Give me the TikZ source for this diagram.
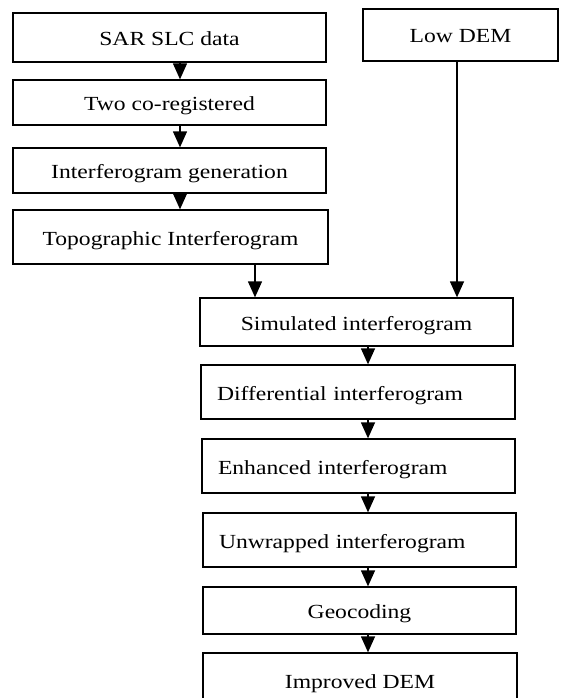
\documentclass[tikz,border=0pt]{standalone}
\usepackage{fontspec}
\setmainfont{Liberation Serif}[FakeStretch=1.18]
\usetikzlibrary{arrows.meta}
\begin{document}
\begin{tikzpicture}[x=1pt,y=-1pt,
  box/.style={draw, line width=1.3pt, rectangle, inner ysep=0pt, inner xsep=0pt,
    font=\fontsize{20pt}{24pt}\selectfont, text height=16pt, text depth=0pt,
    anchor=center},
  lbox/.style={box, align=left, inner xsep=16pt},
  arr/.style={line width=1.3pt, -{Triangle[width=14pt,length=16pt]}}]
\useasboundingbox (0,0) rectangle (565,698);
\clip (0,0) rectangle (565,698);
% left column
\node[box, minimum width=313pt, minimum height=49pt] (b1) at (169.5,37.5) {SAR SLC data};
\node[box, minimum width=313pt, minimum height=45pt] (b2) at (169.5,102.5) {Two co-registered};
\node[box, minimum width=313pt, minimum height=45pt] (b3) at (169.5,170.5) {Interferogram generation};
\node[box, minimum width=315pt, minimum height=54pt] (b4) at (170.5,237) {Topographic Interferogram};
% low DEM
\node[box, minimum width=195pt, minimum height=52pt] (low) at (460.5,35) {Low DEM};
% right column
\node[box, minimum width=313pt, minimum height=48pt] (sim) at (356.5,322) {Simulated interferogram};
\node[lbox, text width=282pt, minimum height=54pt] (diff) at (358,392) {Differential interferogram};
\node[lbox, text width=281pt, minimum height=54pt] (enh) at (358.5,466) {Enhanced interferogram};
\node[lbox, text width=281pt, minimum height=54pt] (unw) at (359.5,540) {Unwrapped interferogram};
\node[box, minimum width=313pt, minimum height=47pt] (geo) at (359.5,610.5) {Geocoding};
\node[box, minimum width=314pt, minimum height=54pt] (imp) at (360,680) {Improved DEM};
% arrow columns
\coordinate (cl) at (180,0);
\coordinate (ct) at (255,0);
\coordinate (cd) at (457,0);
\coordinate (cr) at (368,0);
\draw[arr] (b1.south -| cl) -- (b2.north -| cl);
\draw[arr] (b2.south -| cl) -- (b3.north -| cl);
\draw[arr] (b3.south -| cl) -- (b4.north -| cl);
\draw[arr] (b4.south -| ct) -- (sim.north -| ct);
\draw[arr] (low.south -| cd) -- (sim.north -| cd);
\draw[arr] (sim.south -| cr) -- (diff.north -| cr);
\draw[arr] (diff.south -| cr) -- (enh.north -| cr);
\draw[arr] (enh.south -| cr) -- (unw.north -| cr);
\draw[arr] (unw.south -| cr) -- (geo.north -| cr);
\draw[arr] (geo.south -| cr) -- (imp.north -| cr);
\end{tikzpicture}
\end{document}
